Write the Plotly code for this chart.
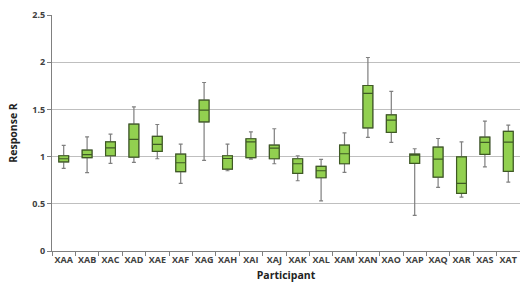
import plotly.graph_objects as go

participants = ["XAA","XAB","XAC","XAD","XAE","XAF","XAG","XAH","XAI","XAJ",
                "XAK","XAL","XAM","XAN","XAO","XAP","XAQ","XAR","XAS","XAT"]
lower = [0.875,0.83,0.928,0.938,0.977,0.716,0.96,0.85,0.974,0.924,
         0.744,0.532,0.833,1.203,1.15,0.378,0.674,0.571,0.892,0.73]
q1 =    [0.945,0.99,1.009,0.995,1.055,0.84,1.368,0.868,0.99,0.977,
         0.822,0.776,0.924,1.305,1.256,0.928,0.783,0.61,1.023,0.843]
median = [0.977,1.02,1.093,1.182,1.129,0.935,1.492,0.98,1.157,1.09,
          0.924,0.85,1.03,1.669,1.386,1.016,0.974,0.716,1.15,1.153]
q3 =    [1.009,1.069,1.157,1.344,1.214,1.026,1.598,1.009,1.189,1.122,
         0.977,0.896,1.122,1.753,1.442,1.026,1.10,0.998,1.206,1.267]
upper = [1.118,1.21,1.238,1.527,1.34,1.132,1.785,1.132,1.262,1.295,
         1.009,0.97,1.252,2.05,1.69,1.083,1.192,1.157,1.376,1.333]
y_ticks = [0, 0.5, 1, 1.5, 2, 2.5]

fig = go.Figure()
# whiskers (gray)
fig.add_trace(go.Box(
    x=participants, q1=q1, median=median, q3=q3,
    lowerfence=lower, upperfence=upper,
    fillcolor="rgba(0,0,0,0)", line=dict(color="#7f7f7f", width=1.2),
    width=0.42, whiskerwidth=0.4, showlegend=False, hoverinfo="skip"))
# boxes (green)
fig.add_trace(go.Box(
    x=participants, q1=q1, median=median, q3=q3,
    lowerfence=q1, upperfence=q3,
    fillcolor="#92D050", line=dict(color="#3f5a24", width=1.2),
    width=0.42, whiskerwidth=0, showlegend=False))

font_family = "'Open Sans', Lato, sans-serif"
fig.update_layout(
    width=520, height=290,
    margin=dict(l=52, r=0, t=15, b=39, autoexpand=False),
    paper_bgcolor="white", plot_bgcolor="white",
    boxmode="overlay",
    font=dict(family=font_family, color="#404040"),
    xaxis=dict(
        range=[-0.5, len(participants) - 0.5],
        showline=True, linecolor="#808080", linewidth=1,
        ticks="outside", tickson="boundaries", ticklen=4, tickcolor="#808080",
        tickangle=0, automargin=False,
        tickvals=participants, ticktext=[f"<b>{p}</b>" for p in participants],
        tickfont=dict(size=9, family=font_family, color="#404040"),
        title=dict(text="<b>Participant</b>", font=dict(size=10.5, color="#222222"), standoff=6),
        showgrid=False,
    ),
    yaxis=dict(
        range=[0, 2.5], tickvals=y_ticks, ticktext=[f"<b>{v:g}</b>" for v in y_ticks],
        showline=True, linecolor="#808080", linewidth=1, automargin=False,
        ticks="outside", ticklen=4, tickcolor="#808080",
        showgrid=True, gridcolor="#bfbfbf", gridwidth=1, zeroline=False,
        tickfont=dict(size=9, family=font_family, color="#404040"),
        title=dict(text="<b>Response R</b>", font=dict(size=10.5, color="#222222"), standoff=12),
    ),
)
fig.write_html(
    "out.html",
    config={"displayModeBar": False},
    post_script="document.body.style.margin='0';document.body.style.overflow='hidden';",
)
